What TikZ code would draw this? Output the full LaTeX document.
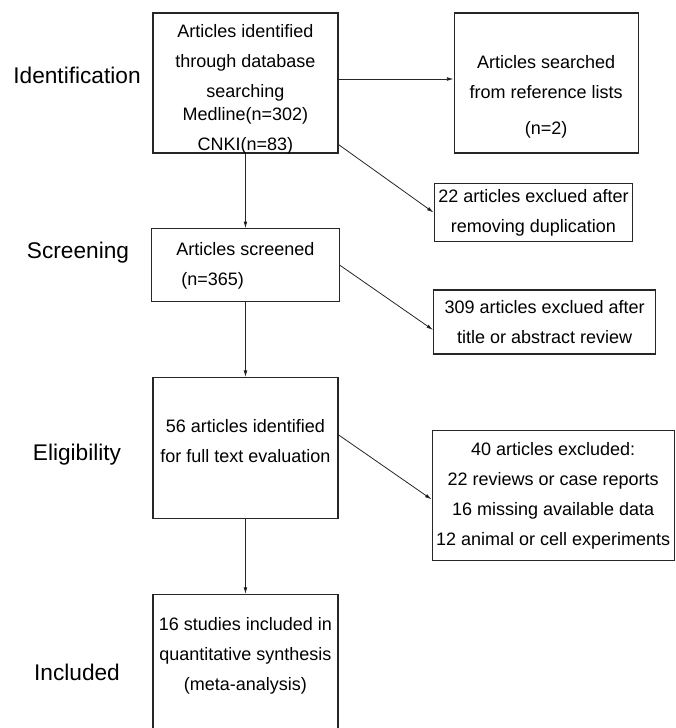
\documentclass[tikz,border=0pt]{standalone}
\usepackage{fontspec}
\setmainfont{Liberation Sans}
\usetikzlibrary{positioning,arrows.meta}

\begin{document}
\begin{tikzpicture}[x=1pt,y=-1pt,node distance=56pt and 86.25pt,
box/.style={
% The frame:
rectangle,
draw=black!85,
line width=0.9pt,
inner xsep=1pt, inner ysep=0pt,
minimum width=138.75pt,
align=center,
font=\fontsize{13.5}{22.5}\selectfont
},
stage/.style={
font=\fontsize{17}{20}\selectfont
},
>={Latex[length=5pt,width=2.8pt]}
]
\path[use as bounding box] (0,0) rectangle (506.25,546);
\clip (0,0) rectangle (506.25,546);
% Stage names:
\node[stage] (identlabel) at (57.75,56.25) {Identification};
\node[stage] (screenlabel) at (58.5,189.75) {Screening};
\node[stage] (eliglabel) at (57.75,341.25) {Eligibility};
\node[stage] (incllabel) at (57.75,504) {Included};
% Main column:
\node (ident) [box,minimum height=105pt] at (184.1,62.25) {\rule{0pt}{17pt}Articles identified\\through database\\searching\\[-5.25pt]Medline(n=302)\\\smash{CNKI(n=83)}};
\node (screen) [box,below=of ident,minimum width=141pt,minimum height=54.75pt,align=left] {Articles screened\\\hspace*{3.75pt}(n=365)};
\node (elig) [box,below=of screen,minimum height=105.75pt] {56 articles identified\\for full text evaluation\rule[-10.8pt]{0pt}{10.8pt}};
\node (incl) [box,below=of elig,minimum height=126pt] {16 studies included in\\quantitative synthesis\\(meta-analysis)\rule[-37pt]{0pt}{37pt}};
% Side boxes:
\node (refs) [box,right=of ident,minimum width=138pt,minimum height=105pt] {\rule{0pt}{30.2pt}Articles searched\\from reference lists\\[4.5pt](n=2)};
\node (dup) [box,below right=21.75pt and 71.25pt of ident.south east,minimum width=148.5pt,minimum height=43.5pt,line width=1.4pt] {22 articles exclued after\\removing duplication};
\node (titleex) [box,below right=18pt and 69.75pt of screen.east,minimum width=166.5pt,minimum height=48pt] {309 articles exclued after\\title or abstract review};
\node (fullex) [box,below right=39.5pt and 69.75pt of elig.north east,minimum width=181.5pt,minimum height=97.5pt] {40 articles excluded:\\22 reviews or case reports\\16 missing available data\\12 animal or cell experiments};
\path[line width=0.6pt,draw=black!85] (ident) edge[->] (screen) (screen) edge[->] (elig) (elig) edge[->] (incl)
([yshift=3pt]ident.east) edge[->] ([yshift=3pt]refs.west)
([yshift=6.75pt]ident.south east) edge[->] (dup.west)
(screen.east) edge[->] ([yshift=-6pt]titleex.west)
([yshift=10pt]elig.east) edge[->] ([yshift=-3pt]fullex.west);
\end{tikzpicture}
\end{document}
